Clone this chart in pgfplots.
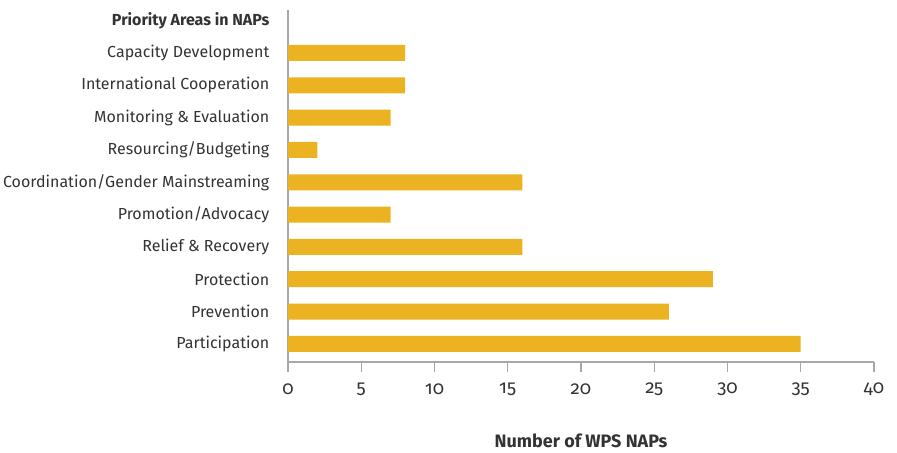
\documentclass[border=0pt]{standalone}
\usepackage{pgfplots}
\pgfplotsset{compat=1.18}
\usepackage{fontspec}
\setmainfont{Fira Sans}[Numbers=OldStyle]
\definecolor{bar}{HTML}{EBB221}
\definecolor{txt}{HTML}{333333}
\definecolor{ax}{HTML}{A8A8A8}
\begin{document}
\begin{tikzpicture}
\path[use as bounding box] (0,0) rectangle (672.75pt,339.75pt);
\begin{axis}[
  at={(216pt,68.25pt)}, anchor=south west,
  scale only axis, width=439.5pt, height=264pt,
  xmin=0, xmax=40, ymin=-0.56, ymax=10.33,
  xtick={0,5,...,40},
  ytick={0,...,10},
  yticklabels={Participation,Prevention,Protection,Relief \& Recovery,Promotion/Advocacy,Coordination/Gender Mainstreaming,Resourcing/Budgeting,Monitoring \& Evaluation,International Cooperation,Capacity Development,\textbf{Priority Areas in NAPs}},
  axis x line*=bottom, axis y line*=left,
  axis line style={ax, line width=0.9pt, -},
  x axis line style={-}, y axis line style={-},
  xtick style={ax, line width=0.9pt},
  tick align=outside,
  major tick length=7.5pt,
  ytick style={draw=none},
  /pgf/number format/assume math mode=true,
  ticklabel style={font=\fontsize{12}{14}\selectfont, text=txt},
  xticklabel style={font=\fontsize{14}{16}\selectfont, anchor=center, yshift=-13pt},
  yticklabel style={anchor=east, xshift=-3pt},
  xlabel={\textbf{Number of WPS NAPs}},
  xlabel style={font=\fontsize{13.5}{15}\selectfont, text=txt, at={(axis description cs:0.5,0)}, anchor=center, yshift=-59pt},
  xbar, bar width=12pt,
]
\addplot[fill=bar, draw=none] coordinates {
 (35,0) (26,1) (29,2) (16,3) (7,4) (16,5) (2,6) (7,7) (8,8) (8,9)
};
\end{axis}
\end{tikzpicture}
\end{document}
